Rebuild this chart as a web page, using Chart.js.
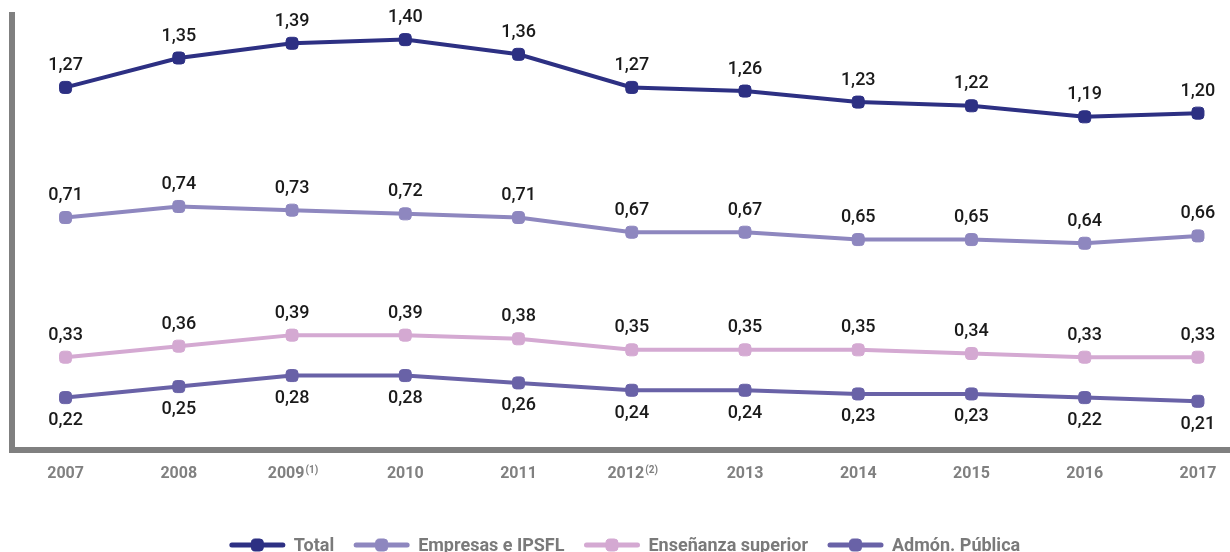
<!DOCTYPE html>
<html>
<head>
<meta charset="utf-8">
<script src="https://cdn.jsdelivr.net/npm/chart.js@4.4.0/dist/chart.umd.min.js"></script>
<style>
  html, body { margin: 0; padding: 0; background: #fff; }
  #wrap { width: 1230px; height: 552px; }
</style>
</head>
<body>
<div id="wrap"><canvas id="grafico"></canvas></div>
<script>
// Datos
const years = [2007, 2008, 2009, 2010, 2011, 2012, 2013, 2014, 2015, 2016, 2017];
const yearNotes = ["", "", "(1)", "", "", "(2)", "", "", "", "", ""];
const total = [1.27, 1.35, 1.39, 1.40, 1.36, 1.27, 1.26, 1.23, 1.22, 1.19, 1.20];
const empresas = [0.71, 0.74, 0.73, 0.72, 0.71, 0.67, 0.67, 0.65, 0.65, 0.64, 0.66];
const ensenanza = [0.33, 0.36, 0.39, 0.39, 0.38, 0.35, 0.35, 0.35, 0.34, 0.33, 0.33];
const admon = [0.22, 0.25, 0.28, 0.28, 0.26, 0.24, 0.24, 0.23, 0.23, 0.22, 0.21];

const FONT = "Roboto, 'Noto Sans', sans-serif";
const GRIS = "#808080";

function serie(label, values, color, axis, below) {
  return {
    label: label,
    data: values.map((v, i) => ({ x: years[i], y: v })),
    yAxisID: axis,
    borderColor: color,
    backgroundColor: color,
    borderWidth: 4,
    pointStyle: "rectRounded",
    pointRadius: 7,
    pointBorderWidth: 1,
    pointBackgroundColor: color,
    pointBorderColor: color,
    labelBelow: below,
  };
}

// etiquetas con los valores
const etiquetasPlugin = {
  id: "etiquetas",
  afterDatasetsDraw(chart) {
    const ctx = chart.ctx;
    ctx.save();
    ctx.font = "500 18px " + FONT;
    ctx.fillStyle = "#1a1a1a";
    ctx.textAlign = "center";
    ctx.textBaseline = "middle";
    chart.data.datasets.forEach((ds, i) => {
      chart.getDatasetMeta(i).data.forEach((pt, j) => {
        const txt = ds.data[j].y.toFixed(2).replace(".", ",");
        ctx.fillText(txt, pt.x, pt.y + (ds.labelBelow ? 23 : -22));
      });
    });
    ctx.restore();
  },
};

// notas (1) y (2) junto al año
const notasPlugin = {
  id: "notas",
  afterDraw(chart) {
    const sx = chart.scales.x;
    const ctx = chart.ctx;
    const tickFont = "bold 16px " + FONT;
    ctx.save();
    years.forEach((y, i) => {
      if (!yearNotes[i]) return;
      ctx.font = tickFont;
      const label = String(y) + "   ";
      const w = ctx.measureText(label).width;
      const wy = ctx.measureText(String(y)).width;
      const left = sx.getPixelForValue(y) - w / 2;
      ctx.font = "bold 10px " + FONT;
      ctx.fillStyle = GRIS;
      ctx.textAlign = "left";
      ctx.textBaseline = "top";
      ctx.fillText(yearNotes[i], left + wy + 1, sx.top + 16);
    });
    ctx.restore();
  },
};

// leyenda con línea y marcador
const leyendaPlugin = {
  id: "leyenda",
  afterDraw(chart) {
    const ctx = chart.ctx;
    const lineW = 55, gapText = 9, gapItem = 20;
    const yc = chart.height - 7;
    ctx.save();
    ctx.font = "bold 18px " + FONT;
    const items = chart.data.datasets.map((ds) => ({
      ds: ds,
      w: lineW + gapText + ctx.measureText(ds.label).width,
    }));
    const totalW = items.reduce((s, it) => s + it.w, 0) + gapItem * (items.length - 1);
    let x = (chart.chartArea.left + chart.chartArea.right) / 2 - totalW / 2 + 4;
    items.forEach((it) => {
      const c = it.ds.borderColor;
      ctx.strokeStyle = c;
      ctx.lineWidth = 5;
      ctx.lineCap = "round";
      ctx.beginPath();
      ctx.moveTo(x + 2, yc);
      ctx.lineTo(x + lineW - 2, yc);
      ctx.stroke();
      ctx.fillStyle = c;
      ctx.lineWidth = 1;
      Chart.helpers.drawPoint(ctx, { pointStyle: "rectRounded", radius: 7, borderWidth: 1 }, x + lineW / 2, yc);
      ctx.fillStyle = "#7a7a7a";
      ctx.textAlign = "left";
      ctx.textBaseline = "middle";
      ctx.font = "bold 18px " + FONT;
      ctx.fillText(it.ds.label, x + lineW + gapText, yc + 1);
      x += it.w + gapItem;
    });
    ctx.restore();
  },
};

const ctx = document.getElementById("grafico").getContext("2d");
const grafico = new Chart(ctx, {
  type: "line",
  data: {
    datasets: [
      serie("Total", total, "#2d3083", "yTotal", false),
      serie("Empresas e IPSFL", empresas, "#8e87bf", "y", false),
      serie("Enseñanza superior", ensenanza, "#d4a9d2", "y", false),
      serie("Admón. Pública", admon, "#6962a7", "y", true),
    ],
  },
  options: {
    responsive: true,
    maintainAspectRatio: false,
    animation: false,
    layout: { autoPadding: false, padding: { top: 15, left: 12, right: 0, bottom: 53 } },
    plugins: {
      legend: { display: false },
      tooltip: { enabled: false },
    },
    scales: {
      x: {
        type: "linear",
        min: 2006.527,
        max: 2017.283,
        afterBuildTicks: (scale) => {
          scale.ticks = years.map((y) => ({ value: y }));
        },
        afterFit: (scale) => {
          scale.paddingLeft = 0;
          scale.paddingRight = 0;
        },
        grid: { display: false, drawTicks: false },
        border: { display: true, width: 6, color: GRIS },
        ticks: {
          autoSkip: false,
          maxRotation: 0,
          padding: 15,
          color: GRIS,
          font: { family: FONT, size: 16, weight: "bold" },
          callback: (v) => {
            const i = years.indexOf(v);
            if (i < 0) return "";
            return String(v) + (yearNotes[i] ? "   " : "");
          },
        },
      },
      y: {
        position: "left",
        min: 0.078,
        max: 1.261,
        grid: { display: false, drawTicks: false },
        border: { display: true, width: 6, color: GRIS },
        ticks: { display: false },
      },
      yTotal: {
        display: false,
        min: 0.284,
        max: 1.467,
      },
    },
  },
  plugins: [etiquetasPlugin, notasPlugin, leyendaPlugin],
});
</script>
</body>
</html>
